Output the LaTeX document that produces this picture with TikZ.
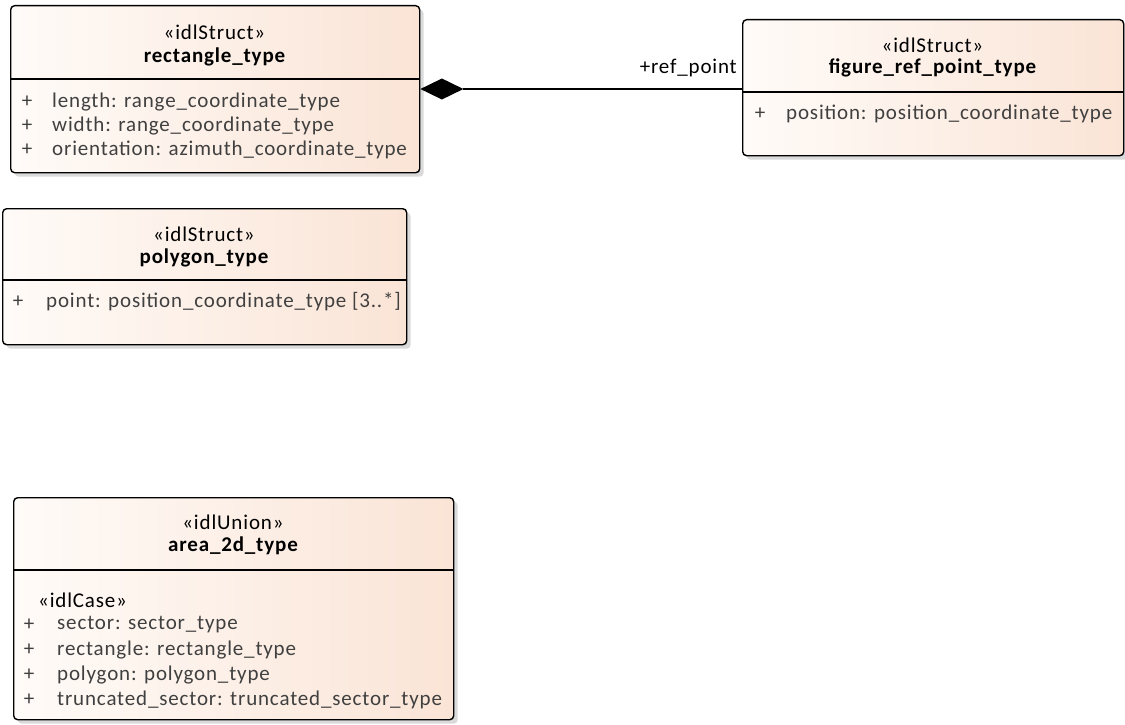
\documentclass[tikz,border=0pt]{standalone}
\usepackage{fontspec}
\setmainfont{Carlito}[LetterSpace=4.0]
\usetikzlibrary{shadows}
\definecolor{boxL}{HTML}{FFFBF8}
\definecolor{boxR}{HTML}{FAE4D6}
\definecolor{shadowc}{HTML}{DADADA}
\definecolor{attrc}{HTML}{404040}
\tikzset{
  umlbox/.style={draw=black, line width=1.4pt, rounded corners=4pt,
    left color=boxL, right color=boxR, anchor=north west, inner sep=0pt,
    drop shadow={shadow xshift=4pt, shadow yshift=-4pt, fill=shadowc, opacity=1}},
  divider/.style={line width=1.2pt, draw=black},
  stereo/.style={font=\fontsize{21}{23}\selectfont, text=black, inner sep=0pt},
  title/.style={font=\fontsize{21}{23}\selectfont\bfseries, text=black, inner sep=0pt},
  attr/.style={font=\fontsize{21}{23}\selectfont, text=attrc, anchor=west, inner sep=0pt},
  plus/.style={font=\fontsize{21}{23}\selectfont, text=attrc, inner sep=0pt},
  conn/.style={line width=1.2pt, draw=black},
  rolelabel/.style={font=\fontsize{21}{23}\selectfont, text=black, anchor=east, inner sep=0pt}
}
\begin{document}
\begin{tikzpicture}[x=1pt,y=-1pt]
\useasboundingbox (0,0) rectangle (1125,725);

% rectangle_type
\node[umlbox, minimum width=409pt, minimum height=167pt] (rect) at (10,5) {};
\draw[divider] (10,79) -- (419,79);
\node[stereo] (rectS) at (214.5,32) {«idlStruct»};
\node[title] (rectT) at (214.5,57) {rectangle\_type};
\node[plus] (rp1) at (27,102) {+};
\node[attr] (ra1) at (52,102) {length: range\_coordinate\_type};
\node[plus] (rp2) at (27,126) {+};
\node[attr] (ra2) at (52,126) {width: range\_coordinate\_type};
\node[plus] (rp3) at (27,150) {+};
\node[attr] (ra3) at (52,150) {orientation: azimuth\_coordinate\_type};

% figure_ref_point_type
\node[umlbox, minimum width=381pt, minimum height=136pt] (fig) at (742,19) {};
\draw[divider] (742,92) -- (1123,92);
\node[stereo] (figS) at (932.5,45) {«idlStruct»};
\node[title] (figT) at (932.5,68) {figure\_ref\_point\_type};
\node[plus] (fp1) at (760,114) {+};
\node[attr] (fa1) at (786,114) {position: position\_coordinate\_type};

% polygon_type
\node[umlbox, minimum width=404pt, minimum height=136pt] (poly) at (2,208) {};
\draw[divider] (2,280) -- (406,280);
\node[stereo] (polyS) at (204,234) {«idlStruct»};
\node[title] (polyT) at (204,258) {polygon\_type};
\node[plus] (pp1) at (18,302) {+};
\node[attr] (pa1) at (46,302) {point: position\_coordinate\_type [3..*]};

% area_2d_type
\node[umlbox, minimum width=440pt, minimum height=222pt] (area) at (13,497) {};
\draw[divider] (13,570) -- (453,570);
\node[stereo] (areaS) at (233,522) {«idlUnion»};
\node[title] (areaT) at (233,546) {area\_2d\_type};
\node[attr, text=black] (aC) at (38,600) {«idlCase»};
\node[plus] (ap1) at (29,625) {+};
\node[attr] (aa1) at (57,625) {sector: sector\_type};
\node[plus] (ap2) at (29,650) {+};
\node[attr] (aa2) at (57,650) {rectangle: rectangle\_type};
\node[plus] (ap3) at (29,675) {+};
\node[attr] (aa3) at (57,675) {polygon: polygon\_type};
\node[plus] (ap4) at (29,700) {+};
\node[attr] (aa4) at (57,700) {truncated\_sector: truncated\_sector\_type};

% composition connector
\coordinate (cA) at (rect.east |- 0,89);
\coordinate (cB) at (fig.west |- 0,89);
\draw[conn] (cB) -- ([xshift=43pt]cA);
\fill[black] (cA) -- ++(21.5,-10.5) -- ++(21.5,10.5) -- ++(-21.5,10.5) -- cycle;
\node[rolelabel] (role) at (737,68) {+ref\_point};
\end{tikzpicture}
\end{document}
